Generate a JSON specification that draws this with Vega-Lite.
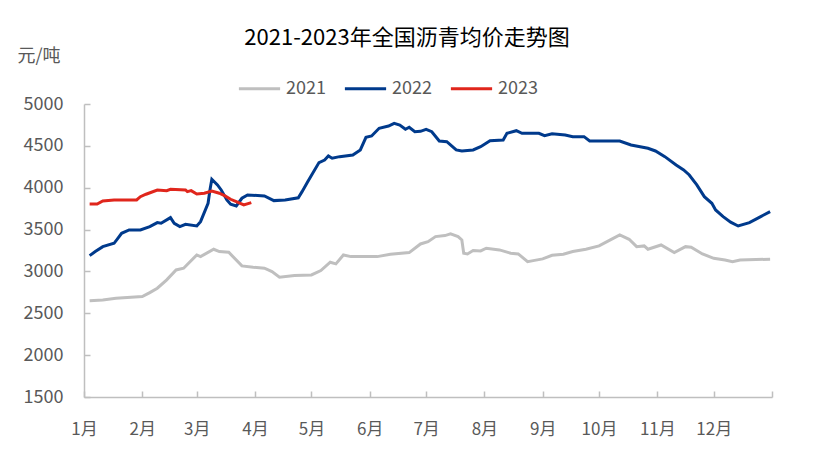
{
  "$schema": "https://vega.github.io/schema/vega-lite/v6.json",
  "width": 688,
  "height": 293,
  "autosize": {"type": "none"},
  "padding": {"left": 84, "top": 104, "right": 43, "bottom": 63},
  "background": "#ffffff",
  "title": {
    "text": "2021-2023年全国沥青均价走势图",
    "font": "Noto Sans CJK SC",
    "fontSize": 22,
    "fontWeight": "normal",
    "color": "#000000",
    "anchor": "middle",
    "frame": "group",
    "dx": -21,
    "dy": 5,
    "offset": 2
  },
  "data": {
    "values": [
      {"year": "2021", "date": "2021-01-04", "price": 2651},
      {"year": "2021", "date": "2021-01-11", "price": 2660},
      {"year": "2021", "date": "2021-01-18", "price": 2680},
      {"year": "2021", "date": "2021-02-01", "price": 2700},
      {"year": "2021", "date": "2021-02-05", "price": 2747},
      {"year": "2021", "date": "2021-02-09", "price": 2800},
      {"year": "2021", "date": "2021-02-14", "price": 2899},
      {"year": "2021", "date": "2021-02-19", "price": 3018},
      {"year": "2021", "date": "2021-02-23", "price": 3038},
      {"year": "2021", "date": "2021-03-01", "price": 3197},
      {"year": "2021", "date": "2021-03-03", "price": 3177},
      {"year": "2021", "date": "2021-03-10", "price": 3265},
      {"year": "2021", "date": "2021-03-13", "price": 3237},
      {"year": "2021", "date": "2021-03-18", "price": 3229},
      {"year": "2021", "date": "2021-03-25", "price": 3066},
      {"year": "2021", "date": "2021-03-31", "price": 3050},
      {"year": "2021", "date": "2021-04-06", "price": 3038},
      {"year": "2021", "date": "2021-04-10", "price": 2998},
      {"year": "2021", "date": "2021-04-14", "price": 2931},
      {"year": "2021", "date": "2021-04-22", "price": 2950},
      {"year": "2021", "date": "2021-05-01", "price": 2958},
      {"year": "2021", "date": "2021-05-06", "price": 3010},
      {"year": "2021", "date": "2021-05-11", "price": 3110},
      {"year": "2021", "date": "2021-05-14", "price": 3090},
      {"year": "2021", "date": "2021-05-18", "price": 3197},
      {"year": "2021", "date": "2021-05-22", "price": 3177},
      {"year": "2021", "date": "2021-06-05", "price": 3177},
      {"year": "2021", "date": "2021-06-12", "price": 3205},
      {"year": "2021", "date": "2021-06-22", "price": 3225},
      {"year": "2021", "date": "2021-06-28", "price": 3328},
      {"year": "2021", "date": "2021-07-02", "price": 3356},
      {"year": "2021", "date": "2021-07-06", "price": 3416},
      {"year": "2021", "date": "2021-07-11", "price": 3428},
      {"year": "2021", "date": "2021-07-14", "price": 3448},
      {"year": "2021", "date": "2021-07-18", "price": 3416},
      {"year": "2021", "date": "2021-07-20", "price": 3376},
      {"year": "2021", "date": "2021-07-21", "price": 3217},
      {"year": "2021", "date": "2021-07-23", "price": 3209},
      {"year": "2021", "date": "2021-07-26", "price": 3249},
      {"year": "2021", "date": "2021-07-30", "price": 3245},
      {"year": "2021", "date": "2021-08-02", "price": 3277},
      {"year": "2021", "date": "2021-08-09", "price": 3257},
      {"year": "2021", "date": "2021-08-15", "price": 3217},
      {"year": "2021", "date": "2021-08-19", "price": 3209},
      {"year": "2021", "date": "2021-08-24", "price": 3117},
      {"year": "2021", "date": "2021-08-27", "price": 3129},
      {"year": "2021", "date": "2021-09-01", "price": 3150},
      {"year": "2021", "date": "2021-09-06", "price": 3193},
      {"year": "2021", "date": "2021-09-12", "price": 3205},
      {"year": "2021", "date": "2021-09-17", "price": 3237},
      {"year": "2021", "date": "2021-09-24", "price": 3265},
      {"year": "2021", "date": "2021-10-01", "price": 3305},
      {"year": "2021", "date": "2021-10-07", "price": 3376},
      {"year": "2021", "date": "2021-10-12", "price": 3436},
      {"year": "2021", "date": "2021-10-17", "price": 3384},
      {"year": "2021", "date": "2021-10-21", "price": 3296},
      {"year": "2021", "date": "2021-10-25", "price": 3305},
      {"year": "2021", "date": "2021-10-27", "price": 3265},
      {"year": "2021", "date": "2021-11-03", "price": 3316},
      {"year": "2021", "date": "2021-11-10", "price": 3225},
      {"year": "2021", "date": "2021-11-16", "price": 3296},
      {"year": "2021", "date": "2021-11-19", "price": 3289},
      {"year": "2021", "date": "2021-11-25", "price": 3209},
      {"year": "2021", "date": "2021-12-01", "price": 3157},
      {"year": "2021", "date": "2021-12-07", "price": 3137},
      {"year": "2021", "date": "2021-12-11", "price": 3117},
      {"year": "2021", "date": "2021-12-15", "price": 3137},
      {"year": "2021", "date": "2021-12-31", "price": 3146},

      {"year": "2022", "date": "2022-01-04", "price": 3189},
      {"year": "2022", "date": "2022-01-07", "price": 3237},
      {"year": "2022", "date": "2022-01-11", "price": 3296},
      {"year": "2022", "date": "2022-01-17", "price": 3336},
      {"year": "2022", "date": "2022-01-19", "price": 3396},
      {"year": "2022", "date": "2022-01-21", "price": 3456},
      {"year": "2022", "date": "2022-01-25", "price": 3496},
      {"year": "2022", "date": "2022-01-31", "price": 3496},
      {"year": "2022", "date": "2022-02-05", "price": 3535},
      {"year": "2022", "date": "2022-02-09", "price": 3583},
      {"year": "2022", "date": "2022-02-11", "price": 3575},
      {"year": "2022", "date": "2022-02-16", "price": 3643},
      {"year": "2022", "date": "2022-02-18", "price": 3575},
      {"year": "2022", "date": "2022-02-21", "price": 3535},
      {"year": "2022", "date": "2022-02-24", "price": 3563},
      {"year": "2022", "date": "2022-03-01", "price": 3543},
      {"year": "2022", "date": "2022-03-03", "price": 3595},
      {"year": "2022", "date": "2022-03-07", "price": 3814},
      {"year": "2022", "date": "2022-03-08", "price": 3973},
      {"year": "2022", "date": "2022-03-09", "price": 4101},
      {"year": "2022", "date": "2022-03-12", "price": 4033},
      {"year": "2022", "date": "2022-03-14", "price": 3973},
      {"year": "2022", "date": "2022-03-17", "price": 3854},
      {"year": "2022", "date": "2022-03-19", "price": 3802},
      {"year": "2022", "date": "2022-03-22", "price": 3782},
      {"year": "2022", "date": "2022-03-25", "price": 3874},
      {"year": "2022", "date": "2022-03-28", "price": 3913},
      {"year": "2022", "date": "2022-04-06", "price": 3902},
      {"year": "2022", "date": "2022-04-11", "price": 3846},
      {"year": "2022", "date": "2022-04-17", "price": 3854},
      {"year": "2022", "date": "2022-04-24", "price": 3880},
      {"year": "2022", "date": "2022-04-26", "price": 3953},
      {"year": "2022", "date": "2022-04-29", "price": 4072},
      {"year": "2022", "date": "2022-05-05", "price": 4300},
      {"year": "2022", "date": "2022-05-08", "price": 4331},
      {"year": "2022", "date": "2022-05-10", "price": 4379},
      {"year": "2022", "date": "2022-05-12", "price": 4352},
      {"year": "2022", "date": "2022-05-16", "price": 4371},
      {"year": "2022", "date": "2022-05-23", "price": 4391},
      {"year": "2022", "date": "2022-05-27", "price": 4451},
      {"year": "2022", "date": "2022-05-30", "price": 4602},
      {"year": "2022", "date": "2022-06-02", "price": 4618},
      {"year": "2022", "date": "2022-06-06", "price": 4710},
      {"year": "2022", "date": "2022-06-11", "price": 4737},
      {"year": "2022", "date": "2022-06-14", "price": 4769},
      {"year": "2022", "date": "2022-06-17", "price": 4749},
      {"year": "2022", "date": "2022-06-20", "price": 4698},
      {"year": "2022", "date": "2022-06-22", "price": 4722},
      {"year": "2022", "date": "2022-06-25", "price": 4669},
      {"year": "2022", "date": "2022-06-28", "price": 4674},
      {"year": "2022", "date": "2022-07-01", "price": 4698},
      {"year": "2022", "date": "2022-07-04", "price": 4669},
      {"year": "2022", "date": "2022-07-08", "price": 4558},
      {"year": "2022", "date": "2022-07-12", "price": 4550},
      {"year": "2022", "date": "2022-07-17", "price": 4451},
      {"year": "2022", "date": "2022-07-20", "price": 4439},
      {"year": "2022", "date": "2022-07-26", "price": 4451},
      {"year": "2022", "date": "2022-07-30", "price": 4490},
      {"year": "2022", "date": "2022-08-04", "price": 4562},
      {"year": "2022", "date": "2022-08-11", "price": 4570},
      {"year": "2022", "date": "2022-08-13", "price": 4650},
      {"year": "2022", "date": "2022-08-18", "price": 4681},
      {"year": "2022", "date": "2022-08-21", "price": 4650},
      {"year": "2022", "date": "2022-08-30", "price": 4650},
      {"year": "2022", "date": "2022-09-02", "price": 4622},
      {"year": "2022", "date": "2022-09-06", "price": 4645},
      {"year": "2022", "date": "2022-09-13", "price": 4630},
      {"year": "2022", "date": "2022-09-17", "price": 4610},
      {"year": "2022", "date": "2022-09-23", "price": 4610},
      {"year": "2022", "date": "2022-09-26", "price": 4558},
      {"year": "2022", "date": "2022-10-12", "price": 4558},
      {"year": "2022", "date": "2022-10-18", "price": 4510},
      {"year": "2022", "date": "2022-10-27", "price": 4471},
      {"year": "2022", "date": "2022-10-31", "price": 4439},
      {"year": "2022", "date": "2022-11-05", "price": 4371},
      {"year": "2022", "date": "2022-11-11", "price": 4272},
      {"year": "2022", "date": "2022-11-15", "price": 4212},
      {"year": "2022", "date": "2022-11-18", "price": 4152},
      {"year": "2022", "date": "2022-11-22", "price": 4033},
      {"year": "2022", "date": "2022-11-26", "price": 3893},
      {"year": "2022", "date": "2022-11-30", "price": 3814},
      {"year": "2022", "date": "2022-12-02", "price": 3734},
      {"year": "2022", "date": "2022-12-06", "price": 3655},
      {"year": "2022", "date": "2022-12-10", "price": 3588},
      {"year": "2022", "date": "2022-12-14", "price": 3543},
      {"year": "2022", "date": "2022-12-20", "price": 3583},
      {"year": "2022", "date": "2022-12-26", "price": 3655},
      {"year": "2022", "date": "2022-12-31", "price": 3714},

      {"year": "2023", "date": "2023-01-04", "price": 3806},
      {"year": "2023", "date": "2023-01-08", "price": 3806},
      {"year": "2023", "date": "2023-01-11", "price": 3842},
      {"year": "2023", "date": "2023-01-17", "price": 3854},
      {"year": "2023", "date": "2023-01-29", "price": 3854},
      {"year": "2023", "date": "2023-01-31", "price": 3893},
      {"year": "2023", "date": "2023-02-03", "price": 3922},
      {"year": "2023", "date": "2023-02-09", "price": 3973},
      {"year": "2023", "date": "2023-02-14", "price": 3965},
      {"year": "2023", "date": "2023-02-16", "price": 3981},
      {"year": "2023", "date": "2023-02-24", "price": 3973},
      {"year": "2023", "date": "2023-02-25", "price": 3953},
      {"year": "2023", "date": "2023-02-27", "price": 3965},
      {"year": "2023", "date": "2023-03-01", "price": 3925},
      {"year": "2023", "date": "2023-03-05", "price": 3934},
      {"year": "2023", "date": "2023-03-09", "price": 3961},
      {"year": "2023", "date": "2023-03-13", "price": 3934},
      {"year": "2023", "date": "2023-03-16", "price": 3902},
      {"year": "2023", "date": "2023-03-19", "price": 3862},
      {"year": "2023", "date": "2023-03-22", "price": 3834},
      {"year": "2023", "date": "2023-03-26", "price": 3794},
      {"year": "2023", "date": "2023-03-30", "price": 3822}
    ]
  },
  "mark": {"type": "line", "strokeWidth": 3, "interpolate": "linear"},
  "encoding": {
    "x": {
      "field": "date",
      "type": "temporal",
      "timeUnit": "monthdate",
      "scale": {"domain": [{"year": 2012, "month": 1, "date": 1}, {"year": 2013, "month": 1, "date": 1}]},
      "axis": {
        "title": null,
        "grid": false,
        "values": [
          {"year": 2012, "month": 1, "date": 1},
          {"year": 2012, "month": 2, "date": 1},
          {"year": 2012, "month": 3, "date": 1},
          {"year": 2012, "month": 4, "date": 1},
          {"year": 2012, "month": 5, "date": 1},
          {"year": 2012, "month": 6, "date": 1},
          {"year": 2012, "month": 7, "date": 1},
          {"year": 2012, "month": 8, "date": 1},
          {"year": 2012, "month": 9, "date": 1},
          {"year": 2012, "month": 10, "date": 1},
          {"year": 2012, "month": 11, "date": 1},
          {"year": 2012, "month": 12, "date": 1},
          {"year": 2013, "month": 1, "date": 1}
        ],
        "labelExpr": "year(datum.value) > 2012 ? '' : (month(datum.value) + 1) + '月'",
        "domainColor": "#BFBFBF",
        "domainWidth": 1.5,
        "tickColor": "#BFBFBF",
        "tickWidth": 1.5,
        "tickSize": -6,
        "labelPadding": 30,
        "labelFont": "Noto Sans CJK SC",
        "labelFontSize": 17,
        "labelColor": "#595959",
        "labelBaseline": "top",
        "labelAlign": "center",
        "labelFlush": false,
        "labelOverlap": false
      }
    },
    "y": {
      "field": "price",
      "type": "quantitative",
      "scale": {"domain": [1500, 5000], "nice": false, "zero": false},
      "axis": {
        "title": "元/吨",
        "titleAngle": 0,
        "titleAlign": "left",
        "titleBaseline": "middle",
        "titleX": -67,
        "titleY": -48,
        "titleFont": "Noto Sans CJK SC",
        "titleFontSize": 18,
        "titleFontWeight": "normal",
        "titleColor": "#595959",
        "grid": false,
        "format": "d",
        "values": [1500, 2000, 2500, 3000, 3500, 4000, 4500, 5000],
        "domainColor": "#BFBFBF",
        "domainWidth": 1.5,
        "tickColor": "#BFBFBF",
        "tickWidth": 1.5,
        "tickSize": -6,
        "labelPadding": 27,
        "labelFont": "Noto Sans CJK SC",
        "labelFontSize": 18,
        "labelColor": "#595959"
      }
    },
    "color": {
      "field": "year",
      "type": "nominal",
      "scale": {"domain": ["2021", "2022", "2023"], "range": ["#BFBFBF", "#003A8C", "#E0261C"]},
      "legend": {
        "title": null,
        "orient": "none",
        "legendX": 153,
        "legendY": -38,
        "direction": "horizontal",
        "symbolType": "stroke",
        "symbolSize": 1700,
        "symbolStrokeWidth": 3,
        "labelFont": "Noto Sans CJK SC",
        "labelFontSize": 18,
        "labelColor": "#595959",
        "labelOffset": 4,
        "columnPadding": 12,
        "padding": 0
      }
    }
  },
  "config": {
    "view": {"stroke": null}
  }
}
